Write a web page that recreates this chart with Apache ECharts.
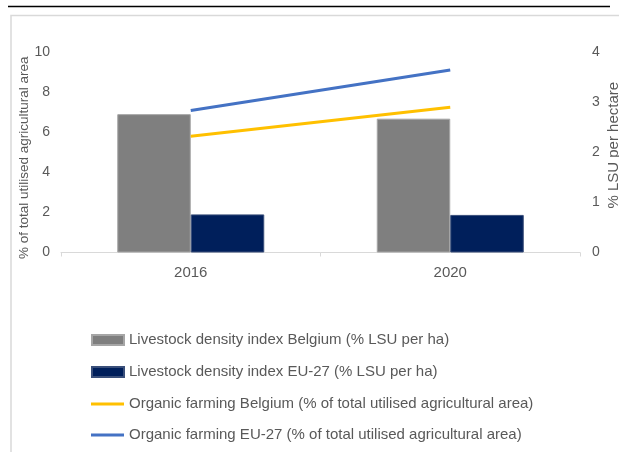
<!DOCTYPE html>
<html>
<head>
<meta charset="utf-8">
<script src="https://cdn.jsdelivr.net/npm/echarts@6/dist/echarts.min.js"></script>
<style>
  html, body { margin: 0; padding: 0; background: #fff; }
  #container { width: 619px; height: 452px; }
</style>
</head>
<body>
<div id="container"></div>
<script>
let years = ['2016', '2020'];
let livestockBelgium = [2.76, 2.67];
let livestockEU = [0.76, 0.75];
let organicBelgium = [5.8, 7.25];
let organicEU = [7.08, 9.1];

let names = [
    'Livestock density index Belgium (% LSU per ha)',
    'Livestock density index EU-27 (% LSU per ha)',
    'Organic farming Belgium (% of total utilised agricultural area)',
    'Organic farming EU-27 (% of total utilised agricultural area)'
];

let font = 'Liberation Sans';
let textGrey = '#595959';
let legendText = { color: textGrey, fontSize: 15, lineHeight: 20, fontFamily: font };

let dom = document.getElementById("container");
let myChart = echarts.init(dom);
let option = {
    animation: false,
    textStyle: { fontFamily: font },
    graphic: [
        {
            type: 'line',
            shape: { x1: 8, y1: 6.5, x2: 610, y2: 6.5 },
            style: { stroke: '#000', lineWidth: 1.5 }
        },
        {
            type: 'rect',
            shape: { x: 11, y: 15.5, width: 640, height: 460 },
            style: { fill: 'none', stroke: '#d9d9d9', lineWidth: 1.5 }
        }
    ],
    // bars and lines get separate legends so the line keys can be thin
    legend: [
        {
            orient: 'vertical',
            left: 86,
            top: 325,
            itemWidth: 32,
            itemHeight: 10,
            itemGap: 12,
            icon: 'rect',
            textStyle: legendText,
            data: [names[0], names[1]]
        },
        {
            orient: 'vertical',
            left: 86,
            top: 389,
            itemWidth: 33,
            itemHeight: 3,
            itemGap: 11,
            icon: 'rect',
            textStyle: legendText,
            data: [names[2], names[3]]
        }
    ],
    grid: {
        left: 61,
        right: 39,
        top: 52,
        bottom: 199.5,
        outerBoundsMode: 'none'
    },
    xAxis: {
        type: 'category',
        data: years,
        axisLine: { lineStyle: { color: '#d9d9d9' } },
        axisTick: { show: true, length: 4, lineStyle: { color: '#d9d9d9' } },
        axisLabel: { color: textGrey, fontSize: 15, margin: 13 }
    },
    yAxis: [
        {
            type: 'value',
            min: 0,
            max: 10,
            interval: 2,
            name: '% of total utilised agricultural area',
            nameLocation: 'middle',
            nameRotate: 90,
            nameGap: 30,
            nameMoveOverlap: false,
            nameTextStyle: { color: textGrey, fontSize: 13.5, padding: [0, 11, 0, 0] },
            splitLine: { show: false },
            axisLine: { show: false },
            axisTick: { show: false },
            axisLabel: { color: textGrey, fontSize: 14, margin: 11 }
        },
        {
            type: 'value',
            min: 0,
            max: 4,
            interval: 1,
            name: '% LSU per hectare',
            nameLocation: 'middle',
            nameRotate: 90,
            nameGap: 26,
            nameMoveOverlap: false,
            nameTextStyle: { color: textGrey, fontSize: 15, padding: [0, 0, 0, 14] },
            splitLine: { show: false },
            axisLine: { show: false },
            axisTick: { show: false },
            axisLabel: { color: textGrey, fontSize: 14, margin: 12 }
        }
    ],
    series: [
        {
            name: names[0],
            type: 'bar',
            yAxisIndex: 1,
            barWidth: 73.5,
            barGap: '0%',
            itemStyle: { color: '#7f7f7f', borderColor: '#a6a6a6', borderWidth: 1 },
            data: livestockBelgium
        },
        {
            name: names[1],
            type: 'bar',
            yAxisIndex: 1,
            barWidth: 73.5,
            barGap: '0%',
            itemStyle: { color: '#001f5b', borderColor: '#3a4f7a', borderWidth: 1 },
            data: livestockEU
        },
        {
            name: names[2],
            type: 'line',
            yAxisIndex: 0,
            symbol: 'none',
            lineStyle: { color: '#ffc000', width: 3 },
            itemStyle: { color: '#ffc000' },
            data: organicBelgium
        },
        {
            name: names[3],
            type: 'line',
            yAxisIndex: 0,
            symbol: 'none',
            lineStyle: { color: '#4472c4', width: 3 },
            itemStyle: { color: '#4472c4' },
            data: organicEU
        }
    ]
};
if (option && typeof option === "object")
{
    myChart.setOption(option, true);
}
</script>
</body>
</html>
